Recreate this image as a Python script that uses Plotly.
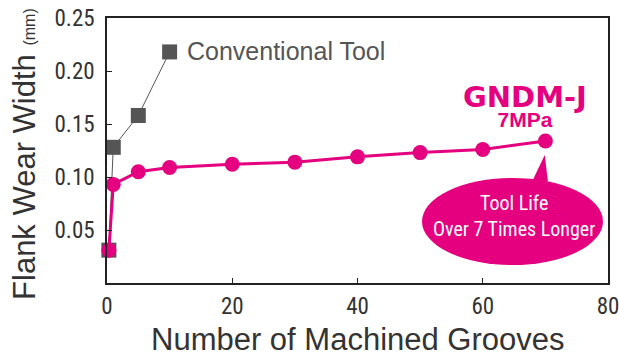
import plotly.graph_objects as go

conv_x = [0.3, 1, 5, 10]
conv_y = [0.031, 0.128, 0.158, 0.218]
gndm_x = [0.3, 1, 5, 10, 20, 30, 40, 50, 60, 70]
gndm_y = [0.031, 0.093, 0.105, 0.109, 0.112, 0.114, 0.119, 0.123, 0.126, 0.134]
x_ticks = [0, 20, 40, 60, 80]
y_ticks = [0.05, 0.10, 0.15, 0.20, 0.25]
y_tick_text = ["0.05", "0.10", "0.15", "0.20", "0.25"]

PINK = "#E4007F"
GRAY = "#555555"
TXT = "#333333"
NARROW = "Roboto Condensed, Liberation Sans Narrow, sans-serif"
SANS = "Liberation Sans, Arial, sans-serif"

fig = go.Figure()
fig.add_trace(go.Scatter(x=conv_x, y=conv_y, mode="lines+markers",
                         line=dict(color=GRAY, width=1),
                         marker=dict(symbol="square", size=15, color=GRAY),
                         cliponaxis=False, showlegend=False))

# callout bubble
fig.add_shape(type="path", xref="x", yref="y",
              path="M 67.9 0.096 L 69.9 0.1208 L 70.4 0.096 Z",
              fillcolor=PINK, line=dict(width=0), layer="above")
fig.add_shape(type="circle", xref="x", yref="y",
              x0=50.3, x1=79.2, y0=0.017, y1=0.0991,
              fillcolor=PINK, line=dict(width=0), layer="above")

fig.add_trace(go.Scatter(x=gndm_x, y=gndm_y, mode="lines+markers",
                         line=dict(color=PINK, width=3),
                         marker=dict(symbol="circle", size=15, color=PINK),
                         cliponaxis=False, showlegend=False))

fig.add_annotation(x=12.45, y=0.2189, xref="x", yref="y", showarrow=False,
                   text="Conventional Tool", xanchor="left", yanchor="middle",
                   font=dict(size=25, color=GRAY, family=SANS))
fig.add_annotation(x=66.8, y=0.1675, xref="x", yref="y", showarrow=False,
                   xanchor="center", yanchor="middle", align="center",
                   text="<b><span style='font-size:29px'>GNDM-J</span></b><br>"
                        "<b><span style='font-size:21px;font-family:Liberation Sans, Arial, sans-serif'>7MPa</span></b>",
                   font=dict(size=15, color=PINK, family="DejaVu Sans"))
fig.add_annotation(x=65.0, y=0.0632, xref="x", yref="y", showarrow=False,
                   xanchor="center", yanchor="middle",
                   text="Tool Life<br>Over 7 Times Longer",
                   font=dict(size=20, color="white", family=NARROW))

# axis titles
fig.add_annotation(xref="paper", yref="paper", x=-0.1637, y=0.487, textangle=-90,
                   xanchor="center", yanchor="middle", showarrow=False,
                   text="Flank Wear Width <span style='font-size:16px'>(mm)</span>",
                   font=dict(size=31, color=TXT, family=SANS))
fig.add_annotation(xref="paper", yref="paper", x=0.501, y=-0.213,
                   xanchor="center", yanchor="middle", showarrow=False,
                   text="Number of Machined Grooves",
                   font=dict(size=31, color=TXT, family=SANS))

fig.update_layout(
    width=619, height=358,
    margin=dict(l=107, r=11, t=18, b=75),
    plot_bgcolor="white", paper_bgcolor="white",
    font=dict(family=SANS, color=TXT),
    xaxis=dict(range=[0, 80], tickvals=x_ticks, ticks="inside", ticklen=5,
               tickcolor="#222", showline=True, linecolor="#222", linewidth=1.5,
               mirror=True, showgrid=False, zeroline=False, automargin=False,
               ticklabeloverflow="allow", ticklabelstandoff=2,
               tickfont=dict(size=23, color=TXT, family=NARROW)),
    yaxis=dict(range=[0, 0.25], tickvals=y_ticks, ticktext=y_tick_text, ticks="inside", ticklen=5,
               tickcolor="#222", showline=True, linecolor="#222", linewidth=1.5,
               mirror=True, showgrid=False, zeroline=False, automargin=False,
               ticklabeloverflow="allow", ticklabelstandoff=6,
               tickfont=dict(size=23, color=TXT, family=NARROW)),
)
# remove the default page margin so the 619x358 figure fills the window exactly
fig.write_html("out.html", config={"displayModeBar": False},
               post_script="document.body.style.margin='0';document.body.style.overflow='hidden';")
